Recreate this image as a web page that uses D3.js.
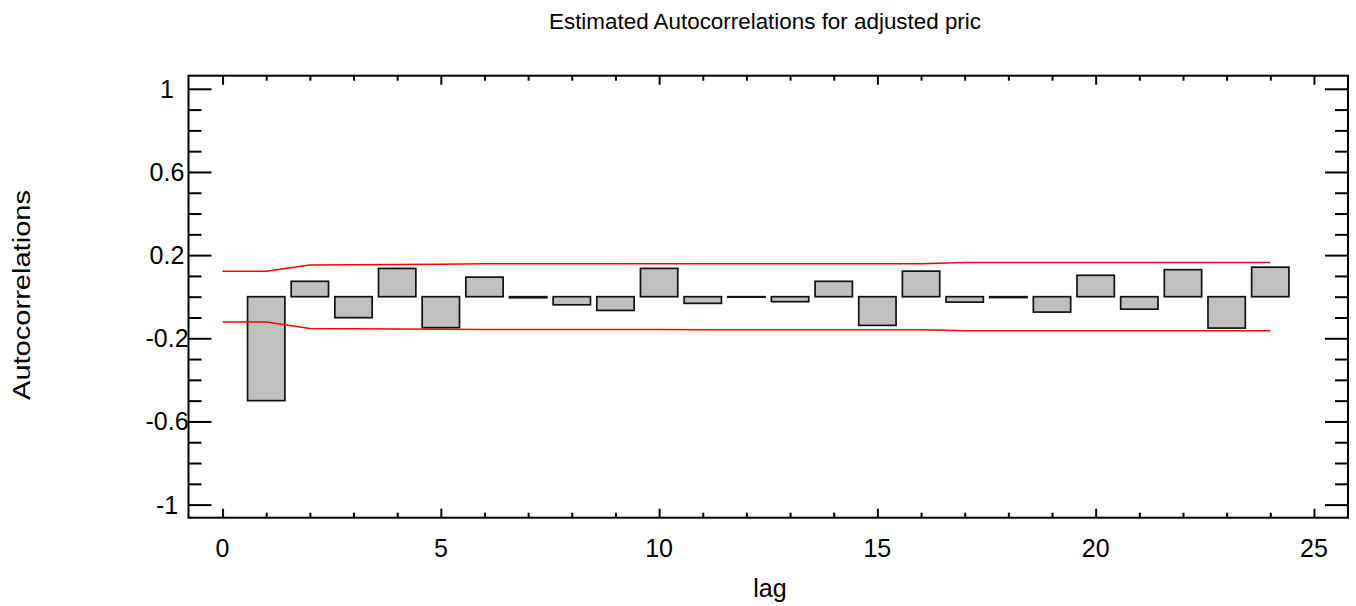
<!DOCTYPE html>
<html>
<head>
<meta charset="utf-8">
<script src="https://cdn.jsdelivr.net/npm/d3@7"></script>
<style>
  html, body { margin: 0; padding: 0; background: #fff; }
  svg { display: block; font-family: "Liberation Sans", Arial, sans-serif; }
</style>
</head>
<body>
<svg id="chart" width="1356" height="606"></svg>
<script>
// Lags and estimated autocorrelations
const lags = [1, 2, 3, 4, 5, 6, 7, 8, 9, 10, 11, 12, 13, 14, 15, 16, 17, 18, 19, 20, 21, 22, 23, 24];
const autocorr = [-0.50, 0.074, -0.101, 0.136, -0.149, 0.094, -0.005, -0.039, -0.066, 0.136,
                  -0.032, -0.002, -0.024, 0.074, -0.138, 0.123, -0.026, -0.004, -0.074, 0.103,
                  -0.060, 0.130, -0.151, 0.142];

// 95% probability limits, lags 0..24
const limitLags = [0, 1, 2, 3, 4, 5, 6, 7, 8, 9, 10, 11, 12, 13, 14, 15, 16, 17, 18, 19, 20, 21, 22, 23, 24];
const upperLimit = [0.122, 0.122, 0.153, 0.154, 0.155, 0.156, 0.158, 0.158, 0.158, 0.158, 0.158, 0.159, 0.159,
                    0.159, 0.159, 0.159, 0.159, 0.164, 0.164, 0.164, 0.164, 0.164, 0.164, 0.164, 0.164];
const lowerLimit = [-0.122, -0.122, -0.153, -0.154, -0.155, -0.156, -0.158, -0.158, -0.158, -0.158, -0.158, -0.159, -0.159,
                    -0.159, -0.159, -0.159, -0.159, -0.164, -0.164, -0.164, -0.164, -0.164, -0.164, -0.164, -0.164];

// Axis ticks
const xMajorTicks = [0, 5, 10, 15, 20, 25];
const xMinorTicks = [1, 2, 3, 4, 6, 7, 8, 9, 11, 12, 13, 14, 16, 17, 18, 19, 21, 22, 23, 24];
const yMajorTicks = [1, 0.6, 0.2, -0.2, -0.6, -1];
const yMinorTicks = [0.9, 0.8, 0.7, 0.5, 0.4, 0.3, 0.1, 0.0, -0.1, -0.3, -0.4, -0.5, -0.7, -0.8, -0.9];
const yTickLabels = ["1", "0.6", "0.2", "-0.2", "-0.6", "-1"];
const xTickLabels = ["0", "5", "10", "15", "20", "25"];

const titleText = "Estimated Autocorrelations for adjusted pric";
const xTitle = "lag";
const yTitle = "Autocorrelations";

const svg = d3.select("#chart");
const plot = { left: 188.5, right: 1348, top: 75.7, bottom: 517.7 };

const x = d3.scaleLinear().domain([-0.78, 25.78]).range([plot.left, plot.right]);
const y = d3.scaleLinear().domain([-1.063, 1.063]).range([plot.bottom, plot.top]);
const barHalf = 0.4275;

// Bars
svg.append("g").selectAll("rect")
  .data(lags.map((l, i) => ({ lag: l, v: autocorr[i] })))
  .join("rect")
  .attr("x", d => x(d.lag - barHalf))
  .attr("width", d => x(d.lag + barHalf) - x(d.lag - barHalf))
  .attr("y", d => Math.min(y(0), y(d.v)))
  .attr("height", d => Math.abs(y(d.v) - y(0)))
  .attr("fill", "#c0c0c0")
  .attr("stroke", "#111")
  .attr("stroke-width", 1.7);

// Probability limits
const line = d3.line().x(d => x(d[0])).y(d => y(d[1]));
[upperLimit, lowerLimit].forEach(arr => {
  svg.append("path")
    .datum(limitLags.map((l, i) => [l, arr[i]]))
    .attr("d", line)
    .attr("fill", "none")
    .attr("stroke", "#ff0000")
    .attr("stroke-width", 1.5);
});

// Inward ticks on all four sides
function tickAxis(axisFn, scale, values, size, transform) {
  const g = svg.append("g")
    .attr("transform", transform)
    .call(axisFn(scale).tickValues(values).tickSize(size).tickFormat(""));
  g.select(".domain").remove();
  g.selectAll(".tick line").attr("stroke", "#000").attr("stroke-width", 2);
}
tickAxis(d3.axisRight, y, yMajorTicks, 23, `translate(${plot.left},0)`);
tickAxis(d3.axisRight, y, yMinorTicks, 13, `translate(${plot.left},0)`);
tickAxis(d3.axisLeft, y, yMajorTicks, 23, `translate(${plot.right},0)`);
tickAxis(d3.axisLeft, y, yMinorTicks, 13, `translate(${plot.right},0)`);
tickAxis(d3.axisTop, x, xMajorTicks, 9, `translate(0,${plot.bottom})`);
tickAxis(d3.axisTop, x, xMinorTicks, 5, `translate(0,${plot.bottom})`);
tickAxis(d3.axisBottom, x, xMajorTicks, 9, `translate(0,${plot.top})`);
tickAxis(d3.axisBottom, x, xMinorTicks, 5, `translate(0,${plot.top})`);

// Frame
svg.append("rect")
  .attr("x", plot.left).attr("y", plot.top)
  .attr("width", plot.right - plot.left).attr("height", plot.bottom - plot.top)
  .attr("fill", "none").attr("stroke", "#000").attr("stroke-width", 2);

// Tick labels
svg.append("g").selectAll("text")
  .data(xMajorTicks)
  .join("text")
  .attr("x", d => x(d))
  .attr("y", 556.5)
  .attr("text-anchor", "middle")
  .attr("font-size", 25)
  .attr("fill", "#000")
  .text((d, i) => xTickLabels[i]);

svg.append("g").selectAll("text")
  .data(yMajorTicks)
  .join("text")
  .attr("x", 167)
  .attr("y", d => y(d) + 9)
  .attr("text-anchor", "middle")
  .attr("font-size", 25)
  .attr("fill", "#000")
  .text((d, i) => yTickLabels[i]);

// Titles
svg.append("text")
  .attr("x", 765).attr("y", 29)
  .attr("text-anchor", "middle")
  .attr("font-size", 21.5)
  .attr("textLength", 432).attr("lengthAdjust", "spacingAndGlyphs")
  .text(titleText);

svg.append("text")
  .attr("x", 770).attr("y", 597)
  .attr("text-anchor", "middle")
  .attr("font-size", 25)
  .text(xTitle);

svg.append("text")
  .attr("transform", "translate(30,295) rotate(-90)")
  .attr("text-anchor", "middle")
  .attr("font-size", 23)
  .attr("textLength", 210).attr("lengthAdjust", "spacingAndGlyphs")
  .text(yTitle);
</script>
</body>
</html>
